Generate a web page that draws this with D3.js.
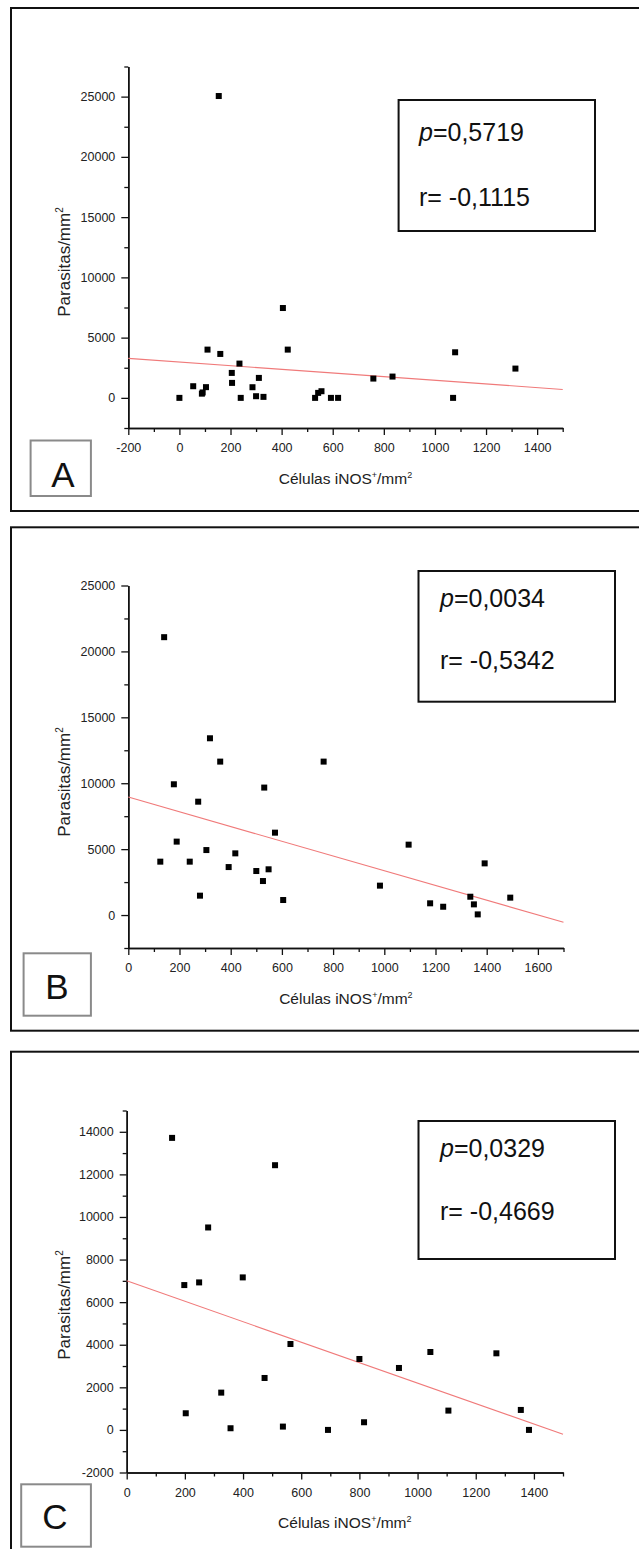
<!DOCTYPE html>
<html>
<head>
  <meta charset="utf-8">
  <title>iNOS vs parasitas</title>
  <script src="https://d3js.org/d3.v7.min.js"></script>
  <style>
    body { margin: 0; background: #fff; }
    svg { display: block; font-family: "Liberation Sans", Arial, sans-serif; }
    .axis path { stroke: #111; stroke-width: 1.5; }
    .axis line { stroke: #111; stroke-width: 1.3; }
    .axis text { font-size: 12.5px; fill: #222; font-family: "Liberation Sans", Arial, sans-serif; }
  </style>
</head>
<body>
<svg id="chart" width="639" height="1549"></svg>
<script>
  // panel A
  const aX = [0, 54, 88, 91, 104, 110, 154, 160, 205, 206, 235, 240, 286, 300, 311, 329, 405, 424, 531, 543, 556, 593, 621, 759, 834, 1071, 1079, 1315];
  const aY = [0, 967, 350, 450, 890, 4005, 25050, 3646, 2071, 1243, 2845, 0, 884, 138, 1657, 83, 7457, 4005, 0, 414, 552, 0, 0, 1602, 1768, 0, 3784, 2431];
  const aFit = [[-200, 3280], [1500, 700]];
  const aStats = ["0,5719", "-0,1115"];
  const aXTicks = [-200, 0, 200, 400, 600, 800, 1000, 1200, 1400];
  const aYTicks = [0, 5000, 10000, 15000, 20000, 25000];

  // panel B
  const bX = [125, 140, 178, 189, 240, 273, 280, 305, 319, 359, 392, 418, 500, 526, 531, 548, 573, 605, 763, 983, 1095, 1179, 1230, 1336, 1350, 1365, 1392, 1492];
  const bY = [4050, 21080, 9920, 5570, 4050, 8600, 1470, 4930, 13410, 11640, 3640, 4680, 3340, 2580, 9670, 3470, 6250, 1140, 11640, 2230, 5340, 890, 630, 1390, 810, 50, 3920, 1320];
  const bFit = [[0, 8950], [1700, -550]];
  const bStats = ["0,0034", "-0,5342"];
  const bXTicks = [0, 200, 400, 600, 800, 1000, 1200, 1400, 1600];
  const bYTicks = [0, 5000, 10000, 15000, 20000, 25000];

  // panel C
  const cX = [156, 198, 203, 249, 280, 325, 357, 399, 474, 510, 537, 563, 692, 800, 816, 936, 1044, 1106, 1271, 1355, 1383];
  const cY = [13714, 6802, 782, 6927, 9507, 1751, 78, 7162, 2439, 12431, 156, 4034, 0, 3331, 360, 2909, 3659, 907, 3597, 938, 0];
  const cFit = [[0, 7000], [1500, -200]];
  const cStats = ["0,0329", "-0,4669"];
  const cXTicks = [0, 200, 400, 600, 800, 1000, 1200, 1400];
  const cYTicks = [-2000, 0, 2000, 4000, 6000, 8000, 10000, 12000, 14000];

  const svg = d3.select("svg#chart");

  const panels = [
    { letter: "A", xs: aX, ys: aY, fit: aFit, stats: aStats, xTicks: aXTicks, yTicks: aYTicks,
      xDomain: [-200, 1500], yDomain: [-2500, 27500], xStep: 100, yStep: 2500,
      xRange: [128.3, 562.7], yRange: [428, 66.5],
      frame: [11, 8, 629, 503], box: [398.6, 100, 196.4, 131], pY: 141, rY: 206, textX: 419,
      label: [30.6, 440.5, 60.3, 55.5], letterX: 63, letterY: 486.5,
      xTitleY: 484, yTitleC: 262 },
    { letter: "B", xs: bX, ys: bY, fit: bFit, stats: bStats, xTicks: bXTicks, yTicks: bYTicks,
      xDomain: [0, 1700], yDomain: [-2500, 25000], xStep: 100, yStep: 2500,
      xRange: [128.3, 563.5], yRange: [948, 585.5],
      frame: [11, 527.3, 629, 503.4], box: [418.5, 571, 196.5, 130.7], pY: 606.5, rY: 669, textX: 440,
      label: [23.6, 953.3, 67.3, 62.4], letterX: 57, letterY: 998.5,
      xTitleY: 1004, yTitleC: 782 },
    { letter: "C", xs: cX, ys: cY, fit: cFit, stats: cStats, xTicks: cXTicks, yTicks: cYTicks,
      xDomain: [0, 1500], yDomain: [-2000, 15000], xStep: 100, yStep: 1000,
      xRange: [126.7, 563], yRange: [1472.5, 1110.5],
      frame: [11, 1051.7, 629, 520], box: [418.5, 1121, 196.5, 138], pY: 1157.3, rY: 1220, textX: 440,
      label: [21.2, 1484.3, 69.7, 62.4], letterX: 55, letterY: 1529.3,
      xTitleY: 1528.3, yTitleC: 1305 }
  ];

  panels.forEach(p => {
    const g = svg.append("g").attr("id", "panel" + p.letter);

    g.append("rect")
      .attr("x", p.frame[0]).attr("y", p.frame[1])
      .attr("width", p.frame[2]).attr("height", p.frame[3])
      .attr("fill", "none").attr("stroke", "#111").attr("stroke-width", 2);

    const x = d3.scaleLinear().domain(p.xDomain).range(p.xRange);
    const y = d3.scaleLinear().domain(p.yDomain).range(p.yRange);

    const xMinor = d3.range(p.xDomain[0], p.xDomain[1] + 1, p.xStep).filter(v => !p.xTicks.includes(v));
    const yMinor = d3.range(p.yDomain[0], p.yDomain[1] + 1, p.yStep).filter(v => !p.yTicks.includes(v));

    g.append("g").attr("class", "axis")
      .attr("transform", "translate(0," + p.yRange[0] + ")")
      .call(d3.axisBottom(x).tickValues(xMinor).tickSize(4).tickSizeOuter(0).tickFormat(""));
    g.append("g").attr("class", "axis")
      .attr("transform", "translate(0," + p.yRange[0] + ")")
      .call(d3.axisBottom(x).tickValues(p.xTicks).tickSize(7).tickSizeOuter(0).tickPadding(8.5)
        .tickFormat(d => String(d)));

    g.append("g").attr("class", "axis")
      .attr("transform", "translate(" + p.xRange[0] + ",0)")
      .call(d3.axisLeft(y).tickValues(yMinor).tickSize(4).tickSizeOuter(0).tickFormat(""));
    g.append("g").attr("class", "axis")
      .attr("transform", "translate(" + p.xRange[0] + ",0)")
      .call(d3.axisLeft(y).tickValues(p.yTicks).tickSize(7).tickSizeOuter(0).tickPadding(6)
        .tickFormat(d => String(d)));

    g.append("line")
      .attr("x1", x(p.fit[0][0])).attr("y1", y(p.fit[0][1]))
      .attr("x2", x(p.fit[1][0])).attr("y2", y(p.fit[1][1]))
      .attr("stroke", "#f07a7a").attr("stroke-width", 1.1);

    g.selectAll("rect.pt").data(d3.zip(p.xs, p.ys))
      .join("rect")
      .attr("class", "pt")
      .attr("x", d => x(d[0]) - 3)
      .attr("y", d => y(d[1]) - 3)
      .attr("width", 6).attr("height", 6)
      .attr("fill", "#000");

    // stats box
    g.append("rect")
      .attr("x", p.box[0]).attr("y", p.box[1])
      .attr("width", p.box[2]).attr("height", p.box[3])
      .attr("fill", "#fff").attr("stroke", "#111").attr("stroke-width", 2);
    const pt = g.append("text").attr("x", p.textX).attr("y", p.pY)
      .style("font-size", "25px").attr("fill", "#111");
    pt.append("tspan").style("font-style", "italic").text("p");
    pt.append("tspan").text("=" + p.stats[0]);
    g.append("text").attr("x", p.textX).attr("y", p.rY)
      .style("font-size", "25px").attr("fill", "#111")
      .text("r= " + p.stats[1]);

    // letter box
    g.append("rect")
      .attr("x", p.label[0]).attr("y", p.label[1])
      .attr("width", p.label[2]).attr("height", p.label[3])
      .attr("fill", "#fff").attr("stroke", "#8a8a8a").attr("stroke-width", 2);
    g.append("text").attr("x", p.letterX).attr("y", p.letterY)
      .attr("text-anchor", "middle").style("font-size", "35px").attr("fill", "#111")
      .text(p.letter);

    // axis titles
    const xt = g.append("text")
      .attr("x", (p.xRange[0] + p.xRange[1]) / 2).attr("y", p.xTitleY)
      .attr("text-anchor", "middle").style("font-size", "15.5px").attr("fill", "#222");
    xt.append("tspan").text("Células iNOS");
    xt.append("tspan").attr("dy", -6).style("font-size", "9px").text("+");
    xt.append("tspan").attr("dy", 6).text("/mm");
    xt.append("tspan").attr("dy", -6).style("font-size", "9px").text("2");

    const yt = g.append("text")
      .attr("transform", "translate(70," + p.yTitleC + ") rotate(-90)")
      .attr("text-anchor", "middle").style("font-size", "17px").attr("fill", "#222");
    yt.append("tspan").text("Parasitas/mm");
    yt.append("tspan").attr("dy", -7).style("font-size", "10px").text("2");
  });
</script>
</body>
</html>
